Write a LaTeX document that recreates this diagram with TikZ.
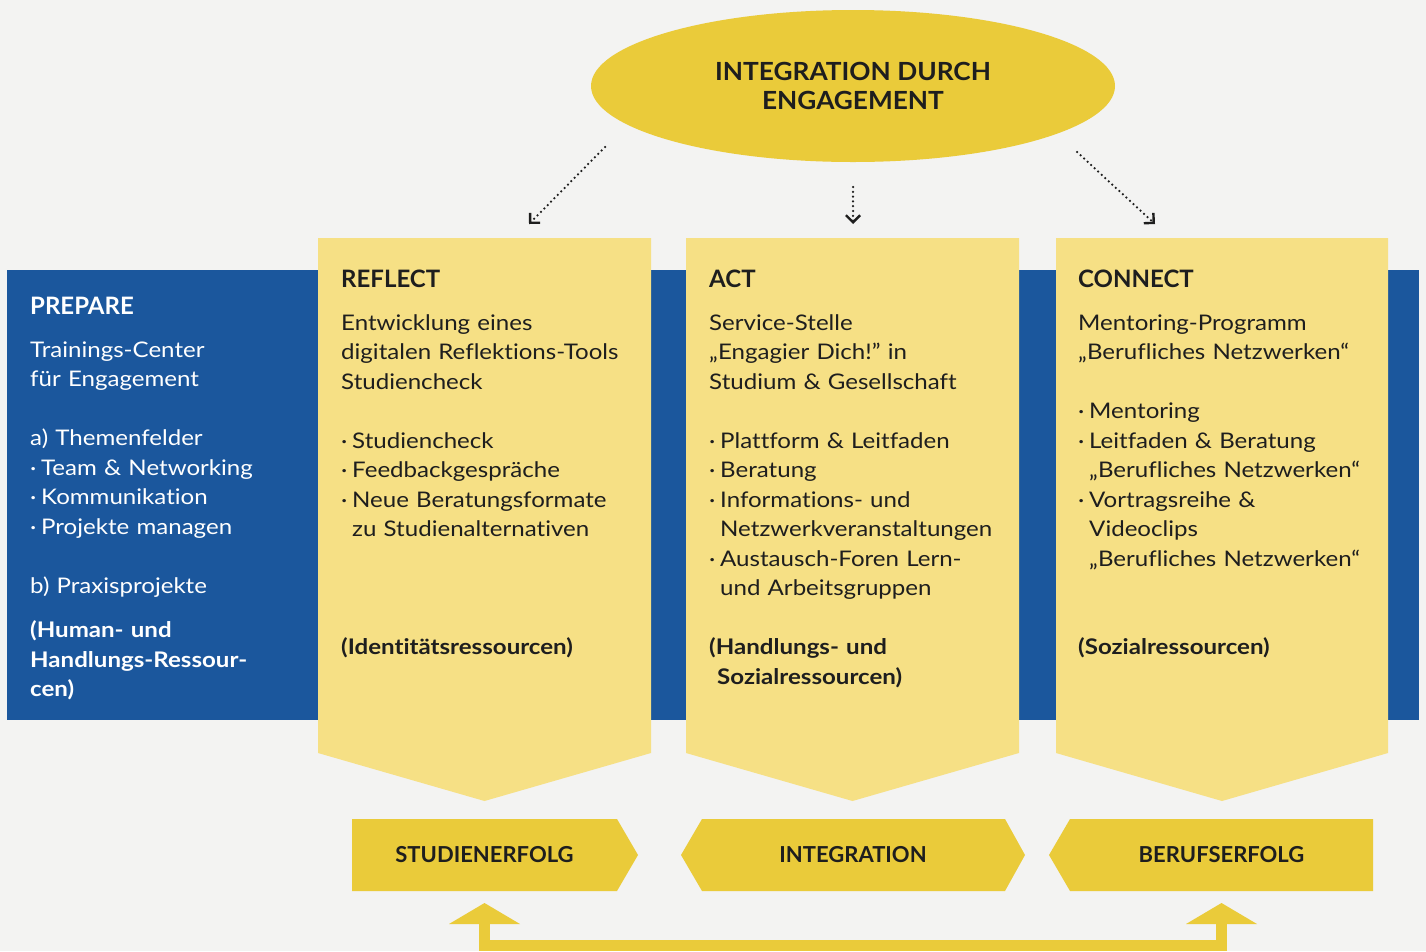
\documentclass[tikz,border=0pt]{standalone}
\usepackage{fontspec}
\setmainfont{Lato}[FakeStretch=1.12, Ligatures=NoCommon]
\newfontfamily\headfont{Lato}[Ligatures=NoCommon]
\newfontfamily\goalfont{Lato}[FakeStretch=1.05, Ligatures=NoCommon]
\usetikzlibrary{arrows.meta,shapes.geometric}
\definecolor{paper}{HTML}{F3F3F2}
\definecolor{navy}{HTML}{1B579D}
\definecolor{pale}{HTML}{F6E085}
\definecolor{gold}{HTML}{EACB3A}
\definecolor{ink}{HTML}{1E1E1E}
\newcommand\colbullet{\makebox[11pt][l]{·}}
\newcommand\colindent{\hspace*{11pt}}

\begin{document}
\begin{tikzpicture}[x=1pt,y=-1pt,
  body/.style={anchor=base west, inner sep=0pt, text width=330pt, align=left,
    font=\fontsize{21.5}{29.5}\selectfont, text=ink},
  head/.style={anchor=base west, inner sep=0pt,
    font=\headfont\bfseries\fontsize{24}{29}\selectfont, text=ink},
  banner/.style={inner sep=0pt, font=\headfont\bfseries\fontsize{22}{26}\selectfont, text=ink},
  pointer/.style={ink, line width=2.5pt, line cap=round, dash pattern=on 0pt off 4.8pt,
    -{Straight Barb[angle=90:10pt, line width=2.4pt, line cap=butt]}},
  feedback/.style={gold, line width=11pt, line join=miter}
]
% paper
\fill[paper] (0,0) rectangle (1426,951);
\useasboundingbox (0,0) rectangle (1426,951);

% blue band behind the columns
\fill[navy] (7,270) rectangle (1419,720);

% the three columns
\fill[pale] (318,238) -- (651,238) -- (651,753) -- (484.5,801) -- (318,753) -- cycle;
\fill[pale] (686,238) -- (1019,238) -- (1019,753) -- (852.5,801) -- (686,753) -- cycle;
\fill[pale] (1056,238) -- (1388,238) -- (1388,753) -- (1222,801) -- (1056,753) -- cycle;

% outcome banners
\fill[gold] (352,819) -- (617,819) -- (638,855) -- (617,891) -- (352,891) -- cycle;
\fill[gold] (681,855) -- (702,819) -- (1005,819) -- (1025,855) -- (1005,891) -- (702,891) -- cycle;
\fill[gold] (1049,855) -- (1070,819) -- (1373,819) -- (1373,891) -- (1070,891) -- cycle;
\node[banner] (stud) at (484.5,855) {STUDIENERFOLG};
\node[banner] (integ) at (853,855) {INTEGRATION};
\node[banner] (beruf) at (1221.5,855) {BERUFSERFOLG};

% goal ellipse
\node[ellipse, fill=gold, minimum width=524pt, minimum height=152pt, inner sep=0pt,
  align=center, font=\goalfont\bfseries\fontsize{25}{29}\selectfont, text=ink]
  (goal) at (853,86) {INTEGRATION DURCH\\ENGAGEMENT};

% dotted pointers from the goal to the columns
\coordinate (l0) at (605,147);
\coordinate (l1) at (529,224);
\coordinate (m0) at (853,187);
\coordinate (m1) at (853,224);
\coordinate (r0) at (1077,152);
\coordinate (r1) at (1155,224);
\draw[pointer] (l0) -- (l1);
\draw[pointer] (m0) -- (m1);
\draw[pointer] (r0) -- (r1);

% PREPARE
\node[head, text=white] (prepT) at (30,314) {PREPARE};
\node[body, text=white, text width=285pt] (prepB) at (30,357) {Trainings-Center\\
für Engagement\\[29.5pt]
a) Themenfelder\\
\colbullet Team \& Networking\\
\colbullet Kommunikation\\
\colbullet Projekte managen\\[29.5pt]
b) Praxisprojekte\\[15pt]
{\bfseries (Human- und\\
Handlungs-Ressour-\\
cen)}};

% REFLECT
\node[head] (refT) at (341,287) {REFLECT};
\node[body] (refB) at (341,330) {Entwicklung eines\\
digitalen Reflektions-Tools\\
Studiencheck\\[29.5pt]
\colbullet Studiencheck\\
\colbullet Feedbackgespräche\\
\colbullet Neue Beratungsformate\\
\colindent zu Studienalternativen\\[88.5pt]
{\bfseries (Identitätsressourcen)}};

% ACT
\node[head] (actT) at (709,287) {ACT};
\node[body] (actB) at (709,330) {Service-Stelle\\
„Engagier Dich!" in\\
Studium \& Gesellschaft\\[29.5pt]
\colbullet Plattform \& Leitfaden\\
\colbullet Beratung\\
\colbullet Informations- und\\
\colindent Netzwerkveranstaltungen\\
\colbullet Austausch-Foren Lern-\\
\colindent und Arbeitsgruppen\\[29.5pt]
{\bfseries (Handlungs- und\\
\hspace*{8pt}Sozialressourcen)}};

% CONNECT
\node[head] (conT) at (1078,287) {CONNECT};
\node[body] (conB) at (1078,330) {Mentoring-Programm\\
„Berufliches Netzwerken“\\[29.5pt]
\colbullet Mentoring\\
\colbullet Leitfaden \& Beratung\\
\colindent „Berufliches Netzwerken“\\
\colbullet Vortragsreihe \&\\
\colindent Videoclips\\
\colindent „Berufliches Netzwerken“\\[59pt]
{\bfseries (Sozialressourcen)}};

% feedback loop between the outer outcomes
\coordinate (fbL) at (484.5,924);
\coordinate (fbR) at (1221.5,924);
\draw[feedback] (fbL) -- (484.5,945.5) -- (1221.5,945.5) -- (fbR);
\fill[gold] (449,924) -- (520,924) -- (484.5,903) -- cycle;
\fill[gold] (1186,924) -- (1257,924) -- (1221.5,903) -- cycle;
\end{tikzpicture}
\end{document}
